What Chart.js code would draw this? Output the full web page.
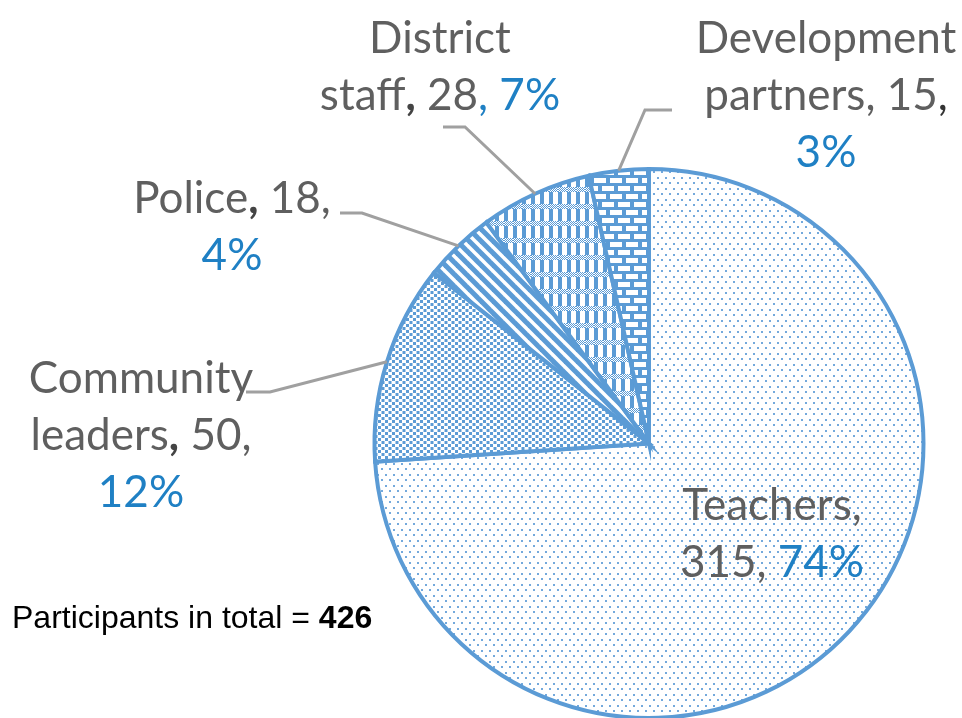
<!DOCTYPE html>
<html>
<head>
<meta charset="utf-8">
<script src="https://cdn.jsdelivr.net/npm/chart.js@4.4.1/dist/chart.umd.min.js"></script>
<style>
  html, body { margin: 0; padding: 0; background: #fff; overflow: hidden; }
  #wrap { width: 962px; height: 720px; }
</style>
</head>
<body>
<div id="wrap"><canvas id="pie" width="962" height="720"></canvas></div>
<script>
// data
const categories = ['Teachers', 'Community leaders', 'Police', 'District staff', 'Development partners'];
const counts = [315, 50, 18, 28, 15];
const percentLabels = ['74%', '12%', '4%', '7%', '3%'];
const totalCount = counts.reduce((a, b) => a + b, 0);

const BLUE = '#5b9bd5';
const TEXT_GREY = '#5f5f5f';
const PCT_BLUE = '#1f80c4';
const LEADER = '#a0a0a0';
const LABEL_FONT = '44px Lato, "Open Sans", sans-serif';

// ---- fill patterns (office-style hatches) ----
function makePattern(w, h, draw) {
  const c = document.createElement('canvas');
  c.width = w; c.height = h;
  const g = c.getContext('2d');
  draw(g, w, h);
  return document.createElement('canvas').getContext('2d').createPattern(c, 'repeat');
}

const patterns = [
  // teachers: sparse dots
  makePattern(8, 11, (g, w, h) => {
    g.fillStyle = '#fff'; g.fillRect(0, 0, w, h);
    g.fillStyle = '#74a9dc';
    g.fillRect(1, 1, 2, 2);
    g.fillRect(5, 6, 2, 2);
  }),
  // community leaders: dense dots
  makePattern(7, 6, (g, w, h) => {
    g.fillStyle = '#fff'; g.fillRect(0, 0, w, h);
    g.fillStyle = BLUE;
    g.fillRect(0, 0, 3, 3);
    g.fillRect(3.5, 3, 3, 3);
  }),
  // police: wide downward diagonal
  makePattern(12, 12, (g, w, h) => {
    g.fillStyle = '#fff'; g.fillRect(0, 0, w, h);
    g.strokeStyle = BLUE; g.lineWidth = 5;
    for (let k = -1; k <= 1; k++) {
      g.beginPath(); g.moveTo(k * w - 2, -2); g.lineTo(k * w + w + 2, h + 2); g.stroke();
    }
  }),
  // district staff: plaid / weave
  makePattern(9, 17, (g, w, h) => {
    g.fillStyle = '#fff'; g.fillRect(0, 0, w, h);
    g.fillStyle = BLUE;
    g.fillRect(0, 0, 4, h);
    g.fillStyle = '#fff'; g.fillRect(0, 0, w, 5);
    g.fillStyle = BLUE;
    for (let y = 0; y < 5; y++) for (let x = (y % 2); x < w; x += 2) g.fillRect(x, y, 1, 1);
  }),
  // development partners: brick
  makePattern(16, 16, (g, w, h) => {
    g.fillStyle = BLUE; g.fillRect(0, 0, w, h);
    g.fillStyle = '#fff';
    g.fillRect(2, 2, 12, 5);
    g.fillRect(10, 10, 12, 5);
    g.fillRect(-6, 10, 12, 5);
  })
];

// label layout: centre x, first baseline, leader elbow/end points
const labelLayout = [
  { cx: 772, y: 520, leader: null },
  { cx: 141, y: 393, leader: [[270, 392], [246, 392]] },
  { cx: 232, y: 213, leader: [[362, 213], [340, 213]] },
  { cx: 440, y: 53, leader: [[465, 127], [443, 127]] },
  { cx: 826, y: 53, leader: [[645, 110], [672, 110]] }
];
const lineGap = 57;

// how each label breaks into lines; each line is a list of [text, colour, bold]
function labelLines(i) {
  const n = categories[i], v = String(counts[i]), p = percentLabels[i];
  const g = TEXT_GREY, b = PCT_BLUE;
  switch (i) {
    case 0: return [[[n, g], [',', g]], [[v, g], [', ', g], [p, b]]];
    case 1: return [[['Community', g]], [['leaders', g], [',', '#444', true], [' ' + v + ',', g]], [[p, b]]];
    case 2: return [[[n, g], [',', '#444', true], [' ' + v + ',', g]], [[p, b]]];
    case 3: return [[['District', g]], [['staff', g], [',', '#444', true], [' ' + v, g], [', ' + p, b]]];
    case 4: return [[['Development', g]], [['partners, ' + v, g], [',', '#333']], [[p, b]]];
  }
}

const labelPlugin = {
  id: 'sliceLabels',
  afterDatasetsDraw(chart) {
    const ctx = chart.ctx;
    const meta = chart.getDatasetMeta(0);
    ctx.save();
    meta.data.forEach((arc, i) => {
      const L = labelLayout[i];
      // leader line from middle of the outer edge
      if (L.leader) {
        const mid = (arc.startAngle + arc.endAngle) / 2;
        const sx = arc.x + Math.cos(mid) * arc.outerRadius;
        const sy = arc.y + Math.sin(mid) * arc.outerRadius;
        ctx.strokeStyle = LEADER;
        ctx.lineWidth = 3;
        ctx.beginPath();
        ctx.moveTo(sx, sy);
        L.leader.forEach(pt => ctx.lineTo(pt[0], pt[1]));
        ctx.stroke();
      }
      ctx.textBaseline = 'alphabetic';
      ctx.textAlign = 'left';
      labelLines(i).forEach((segs, li) => {
        const widths = segs.map(s => { ctx.font = (s[2] ? 'bold ' : '') + LABEL_FONT; return ctx.measureText(s[0]).width; });
        const total = widths.reduce((a, c) => a + c, 0);
        let x = L.cx - total / 2;
        const y = L.y + li * lineGap;
        segs.forEach((s, k) => {
          ctx.font = (s[2] ? 'bold ' : '') + LABEL_FONT;
          ctx.fillStyle = s[1];
          ctx.fillText(s[0], x, y);
          x += widths[k];
        });
      });
    });
    // total note
    ctx.fillStyle = '#000';
    ctx.font = '32px "Liberation Sans", Arial, sans-serif';
    const pre = 'Participants in total = ';
    ctx.fillText(pre, 12, 628);
    const w = ctx.measureText(pre).width;
    ctx.font = 'bold 32px "Liberation Sans", Arial, sans-serif';
    ctx.fillText(String(totalCount), 12 + w, 628);
    ctx.restore();
  }
};

new Chart(document.getElementById('pie'), {
  type: 'pie',
  data: {
    labels: categories,
    datasets: [{
      data: counts,
      backgroundColor: patterns,
      borderColor: BLUE,
      borderWidth: 4,
      borderJoinStyle: 'miter'
    }]
  },
  options: {
    responsive: false,
    animation: false,
    layout: { padding: { left: 372, top: 167, right: 36, bottom: 0 } },
    plugins: {
      legend: { display: false },
      tooltip: { enabled: false }
    }
  },
  plugins: [labelPlugin]
});
</script>
</body>
</html>
